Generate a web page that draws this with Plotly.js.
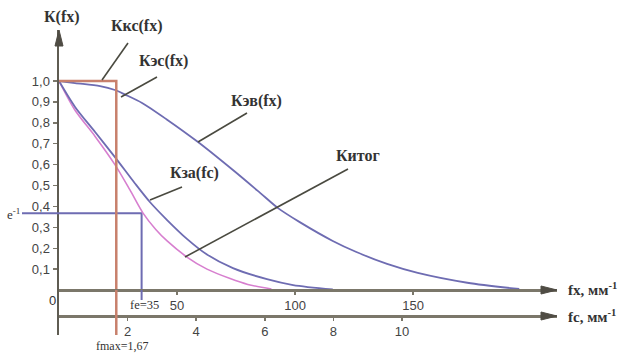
<!DOCTYPE html>
<html>
<head>
<meta charset="utf-8">
<script src="https://cdn.plot.ly/plotly-3.0.1.min.js"></script>
<style>html,body{margin:0;padding:0;background:#fff;}#chart{width:627px;height:354px;}</style>
</head>
<body>
<div id="chart"></div>
<script>
// ---- data ----
// upper curve Кэс(fx)/Кэв(fx), fx in mm^-1
var kTopX = [0, 6.8, 17.4, 23.7, 28, 35.2, 45.8, 58.9, 73.7, 85.2, 92.8, 102, 116, 126, 139, 152, 173, 195];
var kTopY = [1.0, 0.99, 0.976, 0.957, 0.935, 0.895, 0.815, 0.708, 0.574, 0.465, 0.392, 0.325, 0.235, 0.182, 0.125, 0.082, 0.035, 0.005];
// middle curve Кза(fc), plotted on fx scale
var kZaX = [0, 6.8, 15.3, 23.7, 32.2, 38.6, 45.8, 54.2, 62.7, 73.7, 88.1, 99.2, 116];
var kZaY = [1.0, 0.876, 0.756, 0.636, 0.51, 0.42, 0.335, 0.245, 0.17, 0.105, 0.052, 0.024, 0.003];
// resulting curve Китог
var kItX = [0, 6.8, 15.3, 23.7, 30, 35.6, 41, 45.8, 54.2, 62.7, 72.5, 80, 90];
var kItY = [1.0, 0.86, 0.735, 0.6, 0.48, 0.368, 0.29, 0.235, 0.158, 0.1, 0.055, 0.027, 0.005];
// rectangular Ккс(fx), cut-off fmax on fc scale
var fMax = 1.67;
var kksX = [0, fMax, fMax];
var kksY = [1, 1, 0];
// e^-1 construction
var eLevel = 0.368;
var fe = 35;
// ticks
var yTicks = [0.1, 0.2, 0.3, 0.4, 0.5, 0.6, 0.7, 0.8, 0.9, 1.0];
var yTickText = ["0,1", "0,2", "0,3", "0,4", "0,5", "0,6", "0,7", "0,8", "0,9", "1,0"];
var fxTicks = [50, 100, 150];
var fxTickText = ["50", "100", "150"];
var fcTicks = [2, 4, 6, 8, 10];
var fcTickText = ["2", "4", "6", "8", "10"];

// ---- layout geometry ----
var W = 627, H = 354;
var L = 59, R = 70, T = 30, B = 19;
var plotW = W - L - R, plotH = H - T - B;
var xr = [0, 211];           // fx range
var x2r = [0, 14.52];        // fc range
var yr = [-0.215, 1.244];
function px2x(px){ return xr[0] + (px - L) / plotW * (xr[1] - xr[0]); }
function py2y(py){ return yr[1] - (py - T) / plotH * (yr[1] - yr[0]); }
function py2paper(py){ return (H - B - py) / plotH; }
function px2paper(px){ return (px - L) / plotW; }

var axisCol = '#7b776a';
var blue = '#6e6cb2';
var pink = '#d77fcf';
var red = '#c8806c';
var txtCol = '#333';
var serif = 'Liberation Serif, Times New Roman, serif';
var sans = 'Liberation Sans, Arial, sans-serif';

var traces = [
  {x: kksX, y: kksY, xaxis: 'x2', yaxis: 'y', mode: 'lines', line: {color: red, width: 2.5}, hoverinfo: 'skip'},
  {x: [0, fe, fe], y: [eLevel, eLevel, 0], mode: 'lines', line: {color: blue, width: 2}, hoverinfo: 'skip'},
  {x: kItX, y: kItY, mode: 'lines', line: {color: pink, width: 1.6, shape: 'spline', smoothing: 0.8}, hoverinfo: 'skip'},
  {x: kZaX, y: kZaY, mode: 'lines', line: {color: blue, width: 1.8, shape: 'spline', smoothing: 0.8}, hoverinfo: 'skip'},
  {x: kTopX, y: kTopY, mode: 'lines', line: {color: blue, width: 1.8, shape: 'spline', smoothing: 0.8}, hoverinfo: 'skip'}
];

var leaders = [
  [128, 43, 102, 80],
  [157, 77, 121, 97],
  [247, 113, 198, 142],
  [182, 187, 150, 200],
  [348, 169, 185, 257]
];
var shapes = leaders.map(function(l){
  return {type: 'line', xref: 'x', yref: 'y', x0: px2x(l[0]), y0: py2y(l[1]), x1: px2x(l[2]), y1: py2y(l[3]),
          line: {color: '#4a4a40', width: 1.6}};
});
// extensions of construction lines beyond the axes
shapes.push({type: 'line', xref: 'paper', yref: 'y', x0: px2paper(22), x1: 0, y0: eLevel, y1: eLevel, line: {color: blue, width: 2}});
shapes.push({type: 'line', xref: 'x', yref: 'y', x0: fe, x1: fe, y0: 0, y1: py2y(300), line: {color: blue, width: 2}});
shapes.push({type: 'line', xref: 'x2', yref: 'y', x0: fMax, x1: fMax, y0: 0, y1: py2y(335), line: {color: red, width: 2.5}});
// arrowheads of the axes
function tri(xa, ya, xb, yb, xc, yc){
  return {type: 'path', xref: 'paper', yref: 'paper',
          path: 'M' + xa + ',' + ya + ' L' + xb + ',' + yb + ' L' + xc + ',' + yc + ' Z',
          fillcolor: '#4f4c44', line: {color: '#4f4c44', width: 1}};
}
var posFx = py2paper(290), posFc = py2paper(316);
var hx = 16 / plotW, hy = 4 / plotH;
shapes.push(tri(1, posFx, 1 - hx, posFx + hy, 1 - hx, posFx - hy));
shapes.push(tri(1, posFc, 1 - hx, posFc + hy, 1 - hx, posFc - hy));
var vx = 4 / plotW, vy = 16 / plotH;
shapes.push(tri(0, 1, -vx, 1 - vy, vx, 1 - vy));

function lab(text, cx, cy, size, font, anchor){
  return {text: text, xref: 'paper', yref: 'paper', x: px2paper(cx), y: py2paper(cy),
          xanchor: anchor || 'center', yanchor: 'middle', showarrow: false,
          font: {family: font || serif, size: size || 16, color: txtCol}};
}
var annotations = [
  lab('<b>К(fx)</b>', 62, 17),
  lab('<b>Ккс(fx)</b>', 137, 26),
  lab('<b>Кэс(fx)</b>', 163, 61),
  lab('<b>Кэв(fx)</b>', 256, 101),
  lab('<b>Кза(fc)</b>', 194, 173),
  lab('<b>Китог</b>', 358, 155),
  lab('<b>fx, мм<sup>-1</sup></b>', 566, 289, 15, serif, 'left'),
  lab('<b>fc, мм<sup>-1</sup></b>', 566, 316, 15, serif, 'left'),
  lab('e<sup>-1</sup>', 22, 214, 13, serif, 'right'),
  lab('0', 52, 300, 13, sans),
  lab('fe=35', 144, 305, 12.5, serif),
  lab('fmax=1,67', 122, 346, 12, serif)
];

var axBase = {showline: true, linecolor: axisCol, linewidth: 2.5, showgrid: false, zeroline: false,
              ticks: 'outside', ticklen: 3, tickcolor: axisCol, tickwidth: 1.5,
              tickfont: {family: sans, size: 13, color: '#444'}, fixedrange: true};

var layout = {
  width: W, height: H,
  margin: {l: L, r: R, t: T, b: B, pad: 0},
  paper_bgcolor: '#fff', plot_bgcolor: '#fff',
  showlegend: false,
  xaxis: Object.assign({}, axBase, {range: xr, anchor: 'free', position: posFx, tickvals: fxTicks, ticktext: fxTickText}),
  xaxis2: Object.assign({}, axBase, {range: x2r, overlaying: 'x', anchor: 'free', position: posFc, tickvals: fcTicks, ticktext: fcTickText}),
  yaxis: Object.assign({}, axBase, {range: yr, tickvals: yTicks, ticktext: yTickText, ticklen: 4, linecolor: '#5f5c52'}),
  shapes: shapes,
  annotations: annotations
};

Plotly.newPlot('chart', traces, layout, {displayModeBar: false, staticPlot: true});
</script>
</body>
</html>
